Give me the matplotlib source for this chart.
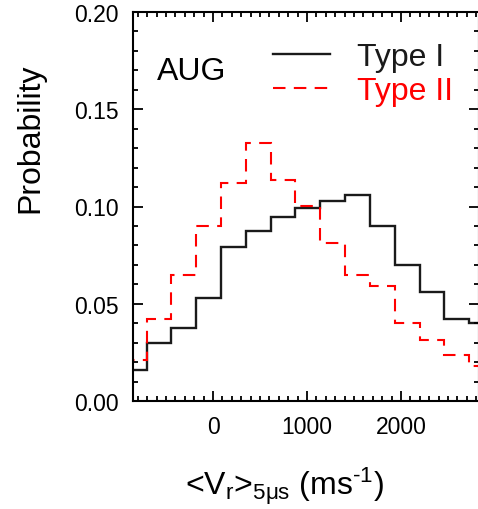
#! /usr/bin/env python
# step histograms of <Vr> for Type I / Type II, AUG panel
import matplotlib
matplotlib.use('Agg')
import matplotlib.pyplot as plt
from matplotlib.ticker import MultipleLocator

plt.rcParams['font.family'] = ['Liberation Sans', 'DejaVu Sans']
plt.rcParams['mathtext.fontset'] = 'custom'
plt.rcParams['mathtext.rm'] = 'Liberation Sans'
plt.rcParams['mathtext.it'] = 'Liberation Sans:italic'

# bin edges (m/s) and probabilities
edges = [-971, -707, -443, -179, 85, 349, 613, 877, 1141, 1405, 1669, 1933, 2197, 2461, 2725, 2989]
type1 = [0.016, 0.030, 0.0375, 0.053, 0.079, 0.0876, 0.0944, 0.0992, 0.1027, 0.1059,
         0.0898, 0.070, 0.056, 0.042, 0.040]
type2 = [0.021, 0.042, 0.065, 0.090, 0.112, 0.1327, 0.1136, 0.1003, 0.0812, 0.065,
         0.059, 0.040, 0.0315, 0.0238, 0.018]
panel = 'AUG'
labels = ['Type I', 'Type II']

W, H = 478, 510
fig = plt.figure(figsize=(W / 100., H / 100.), dpi=100)
ax = fig.add_axes([133. / W, 1 - 402. / H, (479. - 133.) / W, (402. - 13.) / H])

ax.stairs(type1, edges, baseline=None, color='#1a1a1a', lw=1.7, label=labels[0])
ax.stairs(type2, edges, baseline=None, color='red', lw=1.5, linestyle=(0, (6, 4)), label=labels[1])

ax.set_xlim(-852, 2830)
ax.set_ylim(0, 0.2)
ax.set_xticks([0, 1000, 2000])
ax.set_yticks([0.0, 0.05, 0.10, 0.15, 0.20])
ax.set_yticklabels(['0.00', '0.05', '0.10', '0.15', '0.20'])
ax.xaxis.set_minor_locator(MultipleLocator(100))
ax.yaxis.set_minor_locator(MultipleLocator(0.01))
ax.tick_params(which='both', direction='in', top=True, right=True, labelsize=16.5, width=1.3, pad=10)
ax.tick_params(which='major', length=7)
ax.tick_params(which='minor', length=3.5)
for s in ax.spines.values():
    s.set_linewidth(1.5)

ax.text((157 - 133.) / 346, (402 - 80.) / 389, panel, transform=ax.transAxes, fontsize=23, va='baseline')
leg = ax.legend(loc='upper left', bbox_to_anchor=((273 - 133.) / 346, 0.922), frameon=False,
                fontsize=23, handlelength=1.78, handletextpad=0.84, labelspacing=0.12,
                borderpad=0, borderaxespad=0, labelcolor='linecolor')

fig.text(285. / W, 1 - 486. / H, '<V$_\\mathrm{r}$>$_\\mathrm{5\\mu s}$ (ms$^\\mathrm{\u2010 1}$)',
         fontsize=23, ha='center', va='center')
fig.text(30. / W, 1 - 138. / H, 'Probability', fontsize=23, rotation=90, ha='center', va='center')

fig.savefig('out.png', dpi=100)
